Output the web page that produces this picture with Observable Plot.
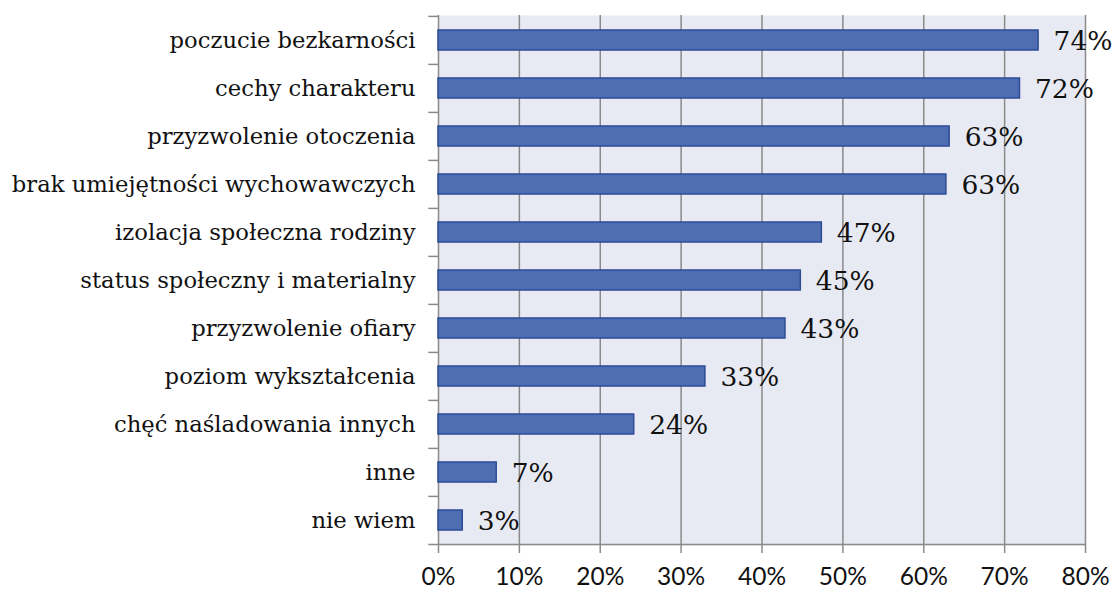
<!DOCTYPE html>
<html><head><meta charset="utf-8">
<script src="https://cdn.jsdelivr.net/npm/d3@7"></script>
<script src="https://cdn.jsdelivr.net/npm/@observablehq/plot@0.6"></script>
<style>body{margin:0;background:#fff}</style>
</head><body><div id="chart"></div>
<script>
const categories = ["poczucie bezkarności","cechy charakteru","przyzwolenie otoczenia","brak umiejętności wychowawczych","izolacja społeczna rodziny","status społeczny i materialny","przyzwolenie ofiary","poziom wykształcenia","chęć naśladowania innych","inne","nie wiem"];
const values = [74.2, 71.9, 63.2, 62.8, 47.4, 44.8, 42.9, 33.0, 24.2, 7.2, 3.0];
const labels = ["74%","72%","63%","63%","47%","45%","43%","33%","24%","7%","3%"];
const xTicks = [0,10,20,30,40,50,60,70,80];

const data = categories.map((c,i)=>({cat:c, v:values[i], label:labels[i]}));
const W=1113, H=589, mT=15, mB=44, mL=438, mR=28;
const step = (H-mT-mB)/categories.length;
const serif = "'DejaVu Serif', serif";

const chart = Plot.plot({
  width:W, height:H, marginTop:mT, marginBottom:mB, marginLeft:mL, marginRight:mR,
  style:{background:"#fff", overflow:"visible"},
  x:{domain:[0,80]},
  y:{domain:categories, paddingInner:0.58, paddingOuter:0.29},
  marks:[
    Plot.frame({fill:"#e7eaf2", stroke:null}),
    Plot.gridX(xTicks, {stroke:"#8a8a8a", strokeOpacity:1, strokeWidth:1.5}),
    Plot.ruleY([categories[categories.length-1]], {dy: step/2, x1:-1.2, x2:80, stroke:"#8a8a8a", strokeWidth:1.5}),
    Plot.ruleY(categories, {dy: -step/2, x1:-1.2, x2:0, stroke:"#8a8a8a", strokeWidth:1.5}),
    Plot.axisX(xTicks, {tickFormat:d=>d+"%", tickSize:8, tickPadding:14, stroke:"#8a8a8a", strokeWidth:1.5, fontSize:24.5, fontFamily:"Lato, sans-serif", fill:"#111", label:null, anchor:"bottom"}),
    Plot.axisY({tickSize:0, tickPadding:23, fontSize:22.7, fontFamily:serif, fill:"#111", label:null}),
    Plot.barX(data, {y:"cat", x:"v", fill:"#4f6db1", stroke:"#2d4b96", strokeWidth:1.5}),
    Plot.text(data, {y:"cat", x:"v", text:"label", dx:15, dy:1, textAnchor:"start", fontSize:26.5, fontFamily:serif, fill:"#111"})
  ]
});
document.getElementById("chart").appendChild(chart);
</script></body></html>
